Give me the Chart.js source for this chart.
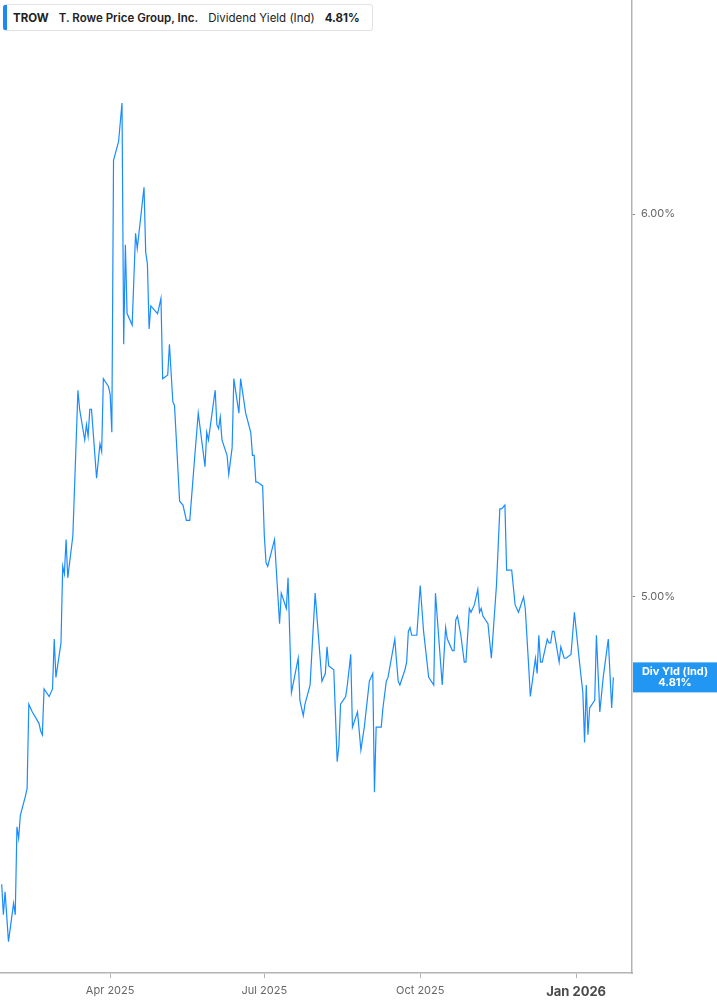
<!DOCTYPE html>
<html>
<head>
<meta charset="utf-8">
<script src="https://cdn.jsdelivr.net/npm/chart.js@4.4.1/dist/chart.umd.min.js"></script>
<style>
    body { margin: 0; background: #fff; font-family: Inter, 'Noto Sans', sans-serif; }
    #wrap { position: relative; width: 717px; height: 1005px; }
    #legend {
        position: absolute; left: 3px; top: 4px; height: 27px; width: 370px;
        border: 1px solid #e3e3e3; border-left: none; border-radius: 3px;
        background: #fff; box-sizing: border-box;
        display: flex; align-items: center; font-size: 11.5px; color: #222; white-space: nowrap;
    }
    #legend .bar { flex: 0 0 4px; align-self: stretch; background: #1e88f5; border-radius: 2px 0 0 2px; margin-right: 6px; }
    #legend span { margin-right: 10px; flex-shrink: 0; }
    #legend .sym { font-weight: 700; }
    #legend .name { font-weight: 600; }
    #legend .val { font-weight: 700; }
</style>
</head>
<body>
<div id="wrap">
    <canvas id="myChart"></canvas>
    <div id="legend">
        <div class="bar"></div>
        <span class="sym">TROW</span>
        <span class="name">T. Rowe Price Group, Inc.</span>
        <span>Dividend Yield (Ind)</span>
        <span class="val">4.81%</span>
    </div>
</div>
<script>
// daily dividend yield (%)
const dates = [
    '2025-01-27','2025-01-28','2025-01-29','2025-01-31','2025-02-03','2025-02-04','2025-02-05','2025-02-06','2025-02-07',
    '2025-02-10','2025-02-11','2025-02-12','2025-02-13','2025-02-14','2025-02-18','2025-02-19','2025-02-20','2025-02-21',
    '2025-02-24','2025-02-26','2025-02-27','2025-02-28','2025-03-03','2025-03-04','2025-03-05','2025-03-06','2025-03-07',
    '2025-03-10','2025-03-13','2025-03-14','2025-03-17','2025-03-18','2025-03-19','2025-03-20','2025-03-21','2025-03-24',
    '2025-03-26','2025-03-27','2025-03-28','2025-03-31','2025-04-01','2025-04-02','2025-04-03','2025-04-06','2025-04-08',
    '2025-04-09','2025-04-10','2025-04-11','2025-04-14','2025-04-16','2025-04-17','2025-04-21','2025-04-22','2025-04-23',
    '2025-04-24','2025-04-25','2025-04-29','2025-05-01','2025-05-02','2025-05-05','2025-05-06','2025-05-08','2025-05-09',
    '2025-05-12','2025-05-14','2025-05-16','2025-05-18','2025-05-21','2025-05-23','2025-05-27','2025-05-28','2025-05-29',
    '2025-06-02','2025-06-03','2025-06-04','2025-06-05','2025-06-06','2025-06-09','2025-06-10','2025-06-12','2025-06-13',
    '2025-06-16','2025-06-17','2025-06-20','2025-06-23','2025-06-24','2025-06-25','2025-06-26','2025-06-27','2025-06-30',
    '2025-07-01','2025-07-02','2025-07-03','2025-07-07','2025-07-10','2025-07-11','2025-07-14','2025-07-15','2025-07-17',
    '2025-07-21','2025-07-22','2025-07-24','2025-07-25','2025-07-28','2025-07-31','2025-08-04','2025-08-06','2025-08-07',
    '2025-08-08','2025-08-11','2025-08-13','2025-08-14','2025-08-15','2025-08-18','2025-08-19','2025-08-21','2025-08-22',
    '2025-08-25','2025-08-27','2025-08-29','2025-09-01','2025-09-03','2025-09-04','2025-09-05','2025-09-08','2025-09-09',
    '2025-09-11','2025-09-12','2025-09-16','2025-09-18','2025-09-19','2025-09-22','2025-09-23','2025-09-24','2025-09-25',
    '2025-09-26','2025-09-29','2025-10-01','2025-10-03','2025-10-06','2025-10-09','2025-10-10','2025-10-13','2025-10-14',
    '2025-10-16','2025-10-17','2025-10-20','2025-10-21','2025-10-22','2025-10-23','2025-10-25','2025-10-27','2025-10-28',
    '2025-10-30','2025-10-31','2025-11-02','2025-11-03','2025-11-04','2025-11-05','2025-11-06','2025-11-07','2025-11-10',
    '2025-11-12','2025-11-15','2025-11-17','2025-11-18','2025-11-20','2025-11-21','2025-11-24','2025-11-26','2025-11-28',
    '2025-12-01','2025-12-02','2025-12-04','2025-12-05','2025-12-08','2025-12-09','2025-12-10','2025-12-11','2025-12-12',
    '2025-12-15','2025-12-16','2025-12-17','2025-12-18','2025-12-19','2025-12-22','2025-12-23','2025-12-25','2025-12-26',
    '2025-12-29','2025-12-31','2026-01-03','2026-01-05','2026-01-06','2026-01-07','2026-01-08','2026-01-09','2026-01-12',
    '2026-01-13','2026-01-15','2026-01-17','2026-01-20','2026-01-22','2026-01-23'
];
const yields = [
    4.25, 4.17, 4.23, 4.10, 4.20, 4.17, 4.40, 4.37, 4.43,
    4.48, 4.50, 4.72, 4.71, 4.70, 4.67, 4.65, 4.64, 4.76,
    4.74, 4.76, 4.89, 4.79, 4.88, 5.08, 5.06, 5.15, 5.05,
    5.16, 5.54, 5.49, 5.41, 5.45, 5.42, 5.49, 5.49, 5.31,
    5.40, 5.38, 5.57, 5.55, 5.53, 5.43, 6.14, 6.19, 6.29,
    5.66, 5.92, 5.74, 5.71, 5.95, 5.91, 6.07, 5.90, 5.87,
    5.70, 5.76, 5.74, 5.78, 5.57, 5.58, 5.66, 5.51, 5.50,
    5.25, 5.24, 5.20, 5.20, 5.37, 5.48, 5.34, 5.43, 5.41,
    5.54, 5.45, 5.44, 5.47, 5.41, 5.37, 5.32, 5.39, 5.57,
    5.48, 5.57, 5.48, 5.43, 5.37, 5.37, 5.30, 5.30, 5.29,
    5.16, 5.09, 5.08, 5.15, 4.93, 5.01, 4.97, 5.05, 4.75,
    4.84, 4.73, 4.69, 4.72, 4.77, 5.01, 4.78, 4.80, 4.87,
    4.82, 4.81, 4.57, 4.61, 4.72, 4.74, 4.77, 4.85, 4.66,
    4.70, 4.60, 4.66, 4.78, 4.80, 4.49, 4.66, 4.66, 4.71,
    4.78, 4.79, 4.89, 4.78, 4.77, 4.81, 4.83, 4.91, 4.92,
    4.90, 4.90, 5.03, 4.91, 4.79, 4.77, 5.01, 4.83, 4.77,
    4.92, 4.89, 4.86, 4.86, 4.94, 4.95, 4.90, 4.83, 4.83,
    4.97, 4.96, 4.98, 5.00, 5.02, 4.96, 4.97, 4.95, 4.93,
    4.84, 5.03, 5.23, 5.23, 5.24, 5.07, 5.07, 4.98, 4.96,
    5.00, 4.97, 4.82, 4.74, 4.84, 4.80, 4.90, 4.83, 4.83,
    4.89, 4.88, 4.88, 4.91, 4.91, 4.83, 4.87, 4.84, 4.84,
    4.85, 4.96, 4.83, 4.75, 4.62, 4.77, 4.64, 4.71, 4.73,
    4.90, 4.70, 4.79, 4.89, 4.71, 4.79
];

const tickDates = ['2025-04-01', '2025-07-01', '2025-10-01', '2026-01-01'];
const tickLabels = ['Apr 2025', 'Jul 2025', 'Oct 2025', 'Jan 2026'];
const yTicks = [5, 6];

const axisStart = '2025-01-26';
const axisEnd = '2026-02-03';
const yMin = 4.018;
const yMax = 6.559;

const badgeTitle = 'Div Yld (Ind)';
const badgeValue = '4.81%';

const lineColor = '#1a8cff';
const axisColor = '#b3b3b3';

// days since 2025-01-01 so a plain linear axis can do the dates
function dayNum(s) {
    const p = s.split('-').map(Number);
    return (Date.UTC(p[0], p[1] - 1, p[2]) - Date.UTC(2025, 0, 1)) / 86400000;
}

const points = dates.map((d, i) => ({ x: dayNum(d), y: yields[i] }));
const tickValues = tickDates.map(dayNum);

const badgePlugin = {
    id: 'lastValueBadge',
    afterDraw(chart) {
        const ctx = chart.ctx;
        const area = chart.chartArea;
        const y = chart.scales.y.getPixelForValue(yields[yields.length - 1]);
        const left = area.right + 1;
        const w = chart.width - left;
        const h = 30;
        ctx.save();
        ctx.fillStyle = '#2196f3';
        ctx.fillRect(left, y - h / 2, w, h);
        ctx.fillStyle = '#fff';
        ctx.font = 'bold 11px Inter, sans-serif';
        ctx.textAlign = 'center';
        ctx.textBaseline = 'middle';
        ctx.fillText(badgeTitle, left + w / 2, y - 5.5);
        ctx.fillText(badgeValue, left + w / 2, y + 5.5);
        ctx.restore();
    }
};

const ctx = document.getElementById('myChart').getContext('2d');
const myChart = new Chart(ctx, {
    type: 'line',
    data: {
        datasets: [{
            label: 'Dividend Yield (Ind)',
            data: points,
            borderColor: lineColor,
            borderWidth: 1.2,
            pointRadius: 0,
            tension: 0,
            fill: false
        }]
    },
    options: {
        responsive: true,
        maintainAspectRatio: false,
        animation: false,
        layout: { padding: 0 },
        plugins: {
            legend: { display: false },
            tooltip: { enabled: false }
        },
        scales: {
            x: {
                type: 'linear',
                min: dayNum(axisStart),
                max: dayNum(axisEnd),
                afterBuildTicks: axis => {
                    axis.ticks = tickValues.map(v => ({ value: v }));
                },
                afterFit: axis => {
                    axis.height = 32;
                    axis.paddingLeft = 0;
                    axis.paddingRight = 0;
                },
                ticks: {
                    autoSkip: false,
                    maxRotation: 0,
                    padding: 6,
                    callback: value => tickLabels[tickValues.indexOf(value)],
                    color: c => c.index === 3 ? '#4a4a4a' : '#666',
                    font: c => c.index === 3
                        ? { family: 'Inter', size: 13, weight: 'bold' }
                        : { family: 'Inter', size: 11 }
                },
                grid: {
                    drawOnChartArea: false,
                    tickLength: 5,
                    color: axisColor
                },
                border: { display: true, color: axisColor, width: 1.5 }
            },
            y: {
                position: 'right',
                min: yMin,
                max: yMax,
                afterBuildTicks: axis => {
                    axis.ticks = yTicks.map(v => ({ value: v }));
                },
                afterFit: axis => {
                    axis.width = 85;
                    axis.paddingTop = 0;
                    axis.paddingBottom = 0;
                },
                ticks: {
                    padding: 6,
                    color: '#666',
                    font: { family: 'Inter', size: 11 },
                    callback: value => value.toFixed(2) + '%'
                },
                grid: {
                    drawOnChartArea: false,
                    tickLength: 3,
                    color: '#888'
                },
                border: { display: true, color: axisColor, width: 1.5 }
            }
        }
    },
    plugins: [badgePlugin]
});
</script>
</body>
</html>
